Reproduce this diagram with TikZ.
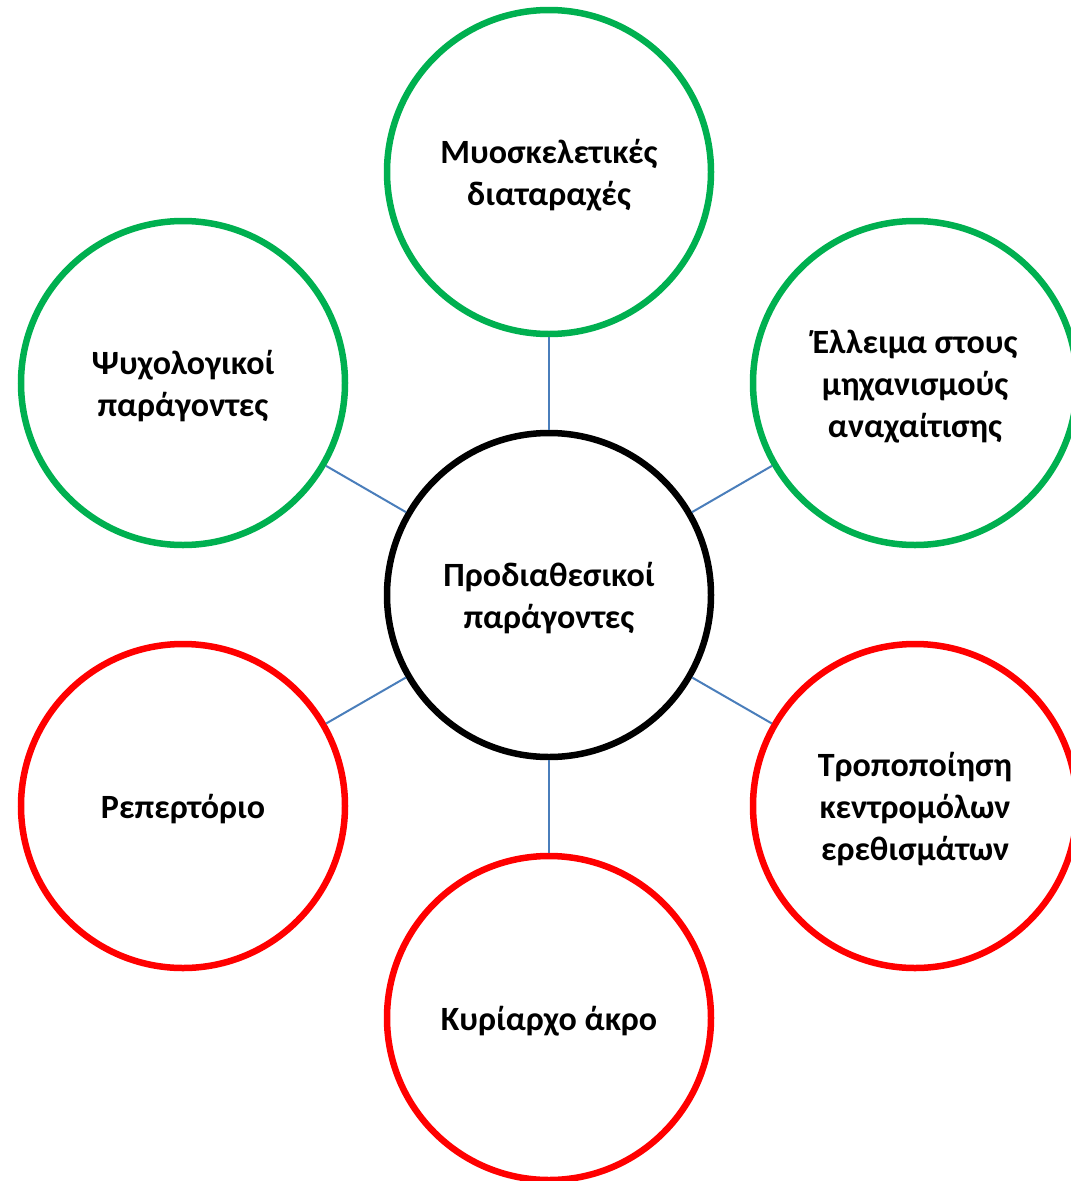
\documentclass[tikz,border=0pt]{standalone}
\usepackage{fontspec}
\setmainfont{Carlito}
\newcommand\bublbl[1]{\raisebox{-4pt}[\height][\depth]{\begin{tabular}{@{}c@{}}#1\end{tabular}}}
\begin{document}
\begin{tikzpicture}[x=1pt,y=-1pt,
  bub/.style={circle,minimum size=324pt,line width=6.5pt,draw=#1,inner sep=0pt,
    font=\fontsize{34}{42}\selectfont\bfseries},
  link/.style={draw={rgb,255:red,74;green,126;blue,187},line width=2pt}]
\definecolor{gr}{RGB}{0,176,80}
\definecolor{rd}{RGB}{255,0,0}
\useasboundingbox (0,0) rectangle (1071,1181);
\node[bub=black] (c) at (549,595) {\bublbl{Προδιαθεσικοί\\παράγοντες}};
\node[bub=gr] (t) at (549,172) {\bublbl{Μυοσκελετικές\\διαταραχές}};
\node[bub=gr] (tl) at (183,383) {\bublbl{Ψυχολογικοί\\παράγοντες}};
\node[bub=gr] (tr) at (915,383) {\bublbl{Έλλειμα στους\\μηχανισμούς\\αναχαίτισης}};
\node[bub=rd] (bl) at (183,806) {\bublbl{Ρεπερτόριο}};
\node[bub=rd] (br) at (915,806) {\bublbl{Τροποποίηση\\κεντρομόλων\\ερεθισμάτων}};
\node[bub=rd] (b) at (549,1018) {\bublbl{Κυρίαρχο άκρο}};
\foreach \n in {t,tl,tr,bl,br,b} \draw[link] (c) -- (\n);
\end{tikzpicture}
\end{document}
